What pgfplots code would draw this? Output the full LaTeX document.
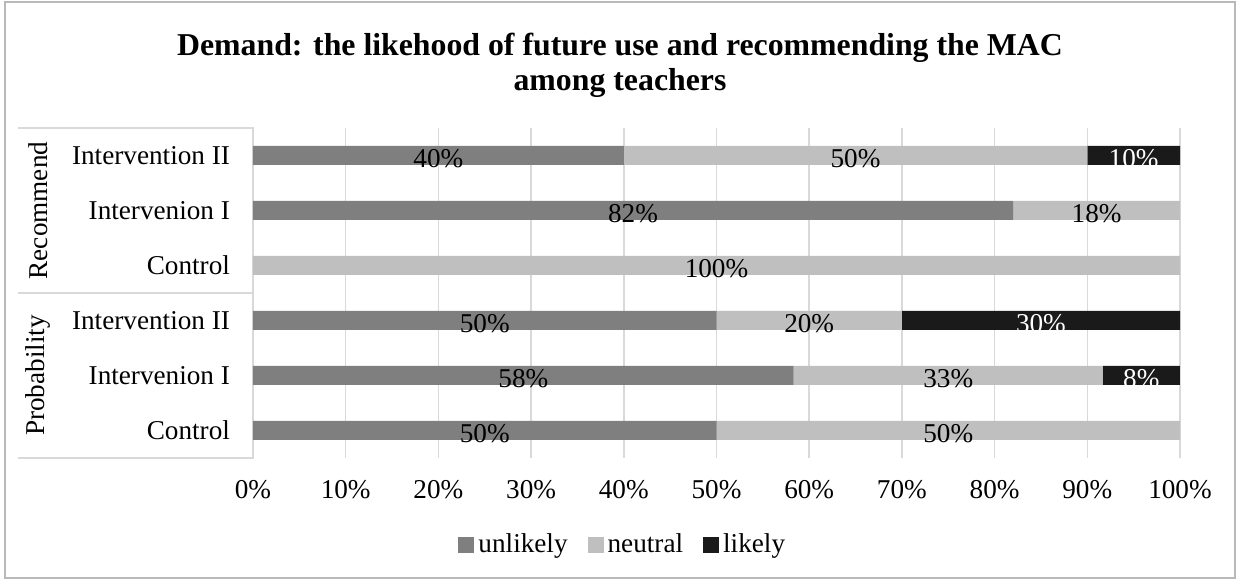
\documentclass[border=0pt]{standalone}
\usepackage{fontspec}
\setmainfont{Liberation Serif}
\usepackage{pgfplots}
\pgfplotsset{compat=1.18}
\definecolor{cUnl}{HTML}{7F7F7F}
\definecolor{cNeu}{HTML}{BFBFBF}
\definecolor{cLik}{HTML}{1A1A1A}
\definecolor{cGrid}{HTML}{D9D9D9}

\pgfplotsset{
  common/.style={
    at={(0,0)}, anchor=south west,
    scale only axis, width=463.5pt, height=165pt,
    xmin=0, xmax=100, ymin=-0.5, ymax=5.5,
    clip=false,
  },
}

\begin{document}
\begin{tikzpicture}[font=\fontsize{13.6}{16}\selectfont]
\useasboundingbox (-126.5pt,-61.5pt) rectangle (493.5pt,229pt);
\draw[gray!55, line width=0.75pt] (-124pt,-60pt) rectangle (491pt,228pt);

\begin{axis}[common,
  xbar stacked, bar width=9.5pt,
  xtick={0,10,...,100},
  xticklabel={\pgfmathprintnumber{\tick}\%},
  ytick={0,...,5},
  yticklabels={Control, Intervenion I, Intervention II, Control, Intervenion I, Intervention II},
  /pgf/number format/assume math mode=true,
  xmajorgrids, major grid style={cGrid, line width=0.75pt},
  axis line style={draw=none}, major tick length=0pt,
  xticklabel style={yshift=-7.5pt},
  yticklabel style={xshift=-8pt},
  legend columns=3,
  legend style={at={(0.4,-0.2636)}, anchor=center, draw=none, fill=none,
    /tikz/every even column/.append style={column sep=8pt}},
  legend image code/.code={\fill[#1] (0pt,-4pt) rectangle (8pt,4pt);},
]
\addplot[fill=cUnl, draw=none] coordinates {(50,0) (58.33,1) (50,2) (0,3) (82,4) (40,5)};
\addplot[fill=cNeu, draw=none] coordinates {(50,0) (33.33,1) (20,2) (100,3) (18,4) (50,5)};
\addplot[fill=cLik, draw=none] coordinates {(0,0) (8.33,1) (30,2) (0,3) (0,4) (10,5)};
\legend{unlikely, neutral, likely}

\draw[cGrid, line width=0.75pt] (axis cs:-25.35,5.5) -- (axis cs:0,5.5) -- (axis cs:0,-0.5) -- (axis cs:-25.35,-0.5);
\draw[cGrid, line width=0.75pt] (axis cs:-25.35,2.5) -- (axis cs:0,2.5);
\node[rotate=90] at (axis cs:-23.2,4) {Recommend};
\node[rotate=90] at (axis cs:-23.2,1) {Probability};
\end{axis}

% value labels, centred in each segment
\begin{axis}[common, hide axis,
  nodes near coords={\pgfplotspointmeta\%},
  point meta=explicit symbolic,
  every node near coord/.append style={anchor=center, yshift=-1.5pt},
]
\addplot[draw=none, mark=none, nodes near coords style={text=black}] coordinates {
  (20,5) [40] (65,5) [50] (41,4) [82] (91,4) [18] (50,3) [100]
  (25,2) [50] (60,2) [20] (29.17,1) [58] (75,1) [33] (25,0) [50] (75,0) [50]};
\addplot[draw=none, mark=none, nodes near coords style={text=white}] coordinates {
  (95,5) [10] (85,2) [30] (95.83,1) [8]};
\end{axis}

\node[align=center, font=\fontsize{15.9}{17.5}\selectfont\bfseries] at (183.5pt,196.5pt)
  {Demand: the likehood of future use and recommending the MAC\\among teachers};
\end{tikzpicture}
\end{document}
